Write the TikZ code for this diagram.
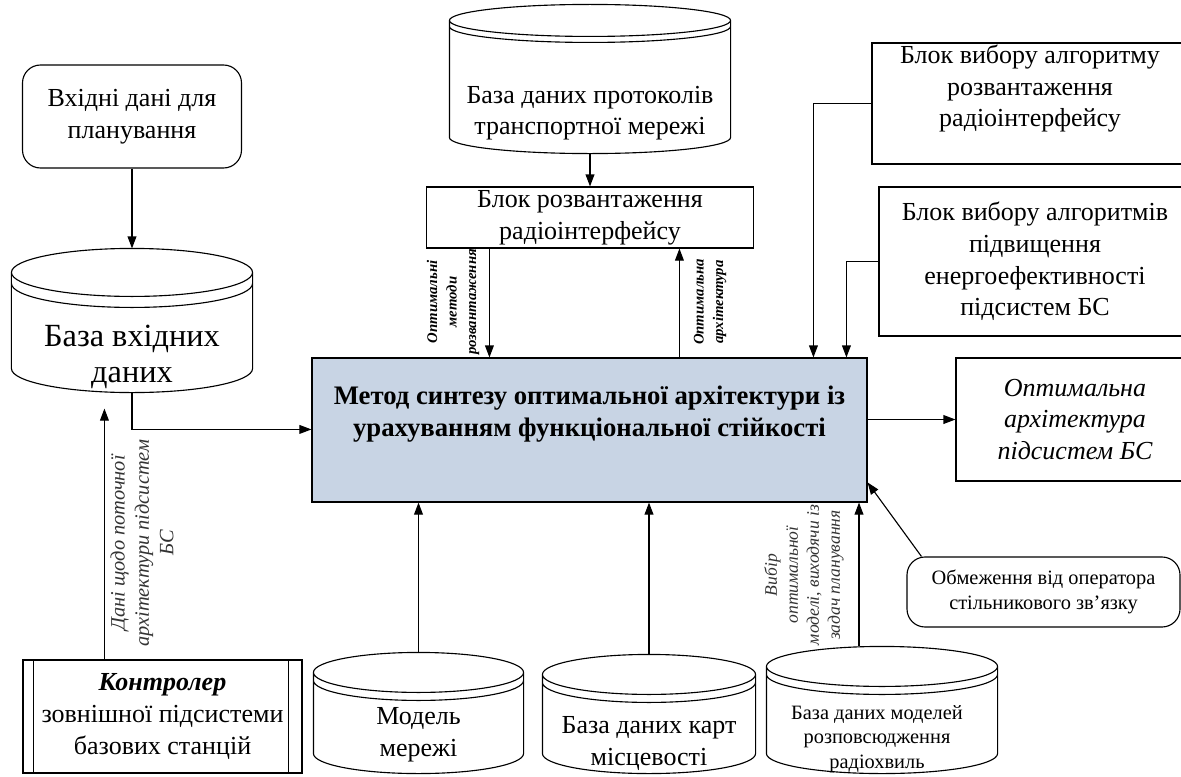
\documentclass[tikz,border=0pt]{standalone}
\usepackage{fontspec}
\setmainfont{Liberation Serif}
\usetikzlibrary{arrows.meta,calc}
\definecolor{mainblue}{RGB}{200,212,228}
\newcommand{\fsnorm}{\fontsize{18.5}{22.5}\selectfont}
\newcommand{\fsbold}{\fontsize{19}{23}\selectfont\bfseries}
\newcommand{\fsbig}{\fontsize{23}{26}\selectfont}
\newcommand{\fsmid}{\fontsize{14.5}{17.5}\selectfont}
\newcommand{\fstiny}{\fontsize{10.5}{13.9}\selectfont}
\newcommand{\fsdani}{\fontsize{14.5}{17.4}\selectfont}
\newcommand{\fsvib}{\fontsize{12.5}{14.9}\selectfont}
% database outline round a node: name, y radius, rim gap
\newcommand{\dbcyl}[3]{%
  \draw let \p1=(#1.north west), \p2=(#1.south east), \n1={(\x2-\x1)/2} in
    (\x1,\y1-#2) -- (\x1,\y2+#2)
    arc[start angle=180,end angle=360,x radius=\n1,y radius=#2]
    -- (\x2,\y1-#2)
    arc[start angle=0,end angle=360,x radius=\n1,y radius=#2]
    (\x1,\y1-#2-#3)
    arc[start angle=180,end angle=360,x radius=\n1,y radius=#2];
}

\begin{document}
\begin{tikzpicture}[x=0.25mm,y=-0.25mm,line width=0.8pt,
    >={Triangle[length=3mm,width=2.2mm]},
    blk/.style={draw,align=center,inner sep=2pt,font=\fsnorm},
    rblk/.style={blk,rounded corners=4.5mm},
    dbase/.style={inner sep=0pt},
    dbtxt/.style={align=center,font=\fsnorm},
    mainbox/.style={draw,fill=mainblue},
    vlbl/.style={rotate=90,align=center}]
    \useasboundingbox (0,0) rectangle (1181,776);
    \clip (0,0) rectangle (1181,776);

    % left column
    \node[rblk, minimum width=54.75mm, minimum height=25.75mm] (input) at (132,116.5) {Вхідні дані для\\планування};
    \node[dbase, minimum width=60mm, minimum height=35.75mm,
        label={[dbtxt,font=\fsbig,yshift=-9.1mm]center:База вхідних\\даних}] (base) at (132,320.5) {};
    \dbcyl{base}{6mm}{2.75mm}

    % top column
    \node[dbase, minimum width=70mm, minimum height=37mm,
        label={[dbtxt,yshift=-8.5mm]center:База даних протоколів\\транспортної мережі}] (proto) at (590,79) {};
    \dbcyl{proto}{4mm}{1.5mm}
    \node[blk, minimum width=81.75mm, minimum height=15.25mm] (unload) at (590,217.5) {Блок розвантаження\\радіоінтерфейсу};

    % method
    \node[mainbox, minimum width=138.75mm, minimum height=36mm,
        label={[dbtxt,font=\fsbold,yshift=4mm]center:Метод синтезу оптимальної архітектури із\\урахуванням функціональної стійкості}] (main) at (589.5,430) {};

    % right column
    \node[blk, minimum width=79mm, minimum height=30.25mm,
        label={[dbtxt,yshift=3.75mm]center:Блок вибору алгоритму\\розвантаження\\радіоінтерфейсу}] (algo1) at (1030,103.5) {};
    \node[blk, minimum width=78mm, minimum height=37.25mm] (algo2) at (1035,261.5) {Блок вибору алгоритмів\\підвищення\\енергоефективності\\підсистем БС};
    \node[blk, font=\fsnorm\itshape, minimum width=59.5mm, minimum height=30.75mm] (result) at (1075,419.5) {Оптимальна\\архітектура\\підсистем БС};
    \node[rblk, font=\fsmid, minimum width=68.25mm, minimum height=17.5mm] (limits) at (1043.5,592) {Обмеження від оператора\\стільникового зв’язку};

    % bottom row
    \node[blk, minimum width=69.75mm, minimum height=28.25mm] (ctrl) at (162.5,716.5) {\textbf{\textit{Контролер}}\\зовнішної підсистеми\\базових станцій};
    \draw ($(ctrl.north west)+(11,0)$) -- ($(ctrl.south west)+(11,0)$);
    \draw ($(ctrl.north east)+(-14,0)$) -- ($(ctrl.south east)+(-14,0)$);
    \node[dbase, minimum width=52.25mm, minimum height=30mm,
        label={[dbtxt,yshift=-5.5mm]center:Модель\\мережі}] (net) at (418.5,713) {};
    \dbcyl{net}{5mm}{2mm}
    \node[dbase, minimum width=53mm, minimum height=29.5mm,
        label={[dbtxt,yshift=-7.4mm]center:База даних карт\\місцевості}] (maps) at (649,714) {};
    \dbcyl{maps}{5mm}{2mm}
    \node[dbase, minimum width=57.5mm, minimum height=31.5mm,
        label={[dbtxt,font=\fsmid,xshift=-1.25mm,yshift=-7.25mm]center:База даних моделей\\розповсюдження\\радіохвиль}] (radio) at (882,710) {};
    \dbcyl{radio}{5mm}{2mm}

    % ends on the method box
    \coordinate (m_in) at ($(main.north west)+(0,72)$);
    \coordinate (m_dn) at ($(main.north west)+(178,0)$);
    \coordinate (m_up) at ($(main.north west)+(368,0)$);
    \coordinate (m_a1) at ($(main.north west)+(502,0)$);
    \coordinate (m_a2) at ($(main.north west)+(535,0)$);
    \coordinate (m_lim) at ($(main.north east)+(0,125)$);
    \coordinate (r_up) at ($(radio.north)+(-23,0)$);
    \coordinate (c_up) at ($(ctrl.north west)+(82,0)$);

    % connectors
    \draw[->] (input) -- (base.north);
    \draw[->] (base.south) |- (m_in);
    \draw[->] (proto.south) -- (unload);
    \draw[->] (unload.south -| m_dn) -- (m_dn);
    \draw[->] (m_up) -- (unload.south -| m_up);
    \draw[->] (algo1.west) -| (m_a1);
    \draw[->] (algo2.west) -| (m_a2);
    \draw[->] (main.east |- result.west) -- (result.west);
    \draw[->] ($(limits.north west)+(15,0)$) -- (m_lim);
    \draw[->] (net.north) -- (net.north |- main.south);
    \draw[->] (maps.north) -- (maps.north |- main.south);
    \draw[->] (r_up) -- (r_up |- main.south);
    \draw[->,shorten >=4mm] (c_up) -- (c_up |- base.south);

    % arrow labels
    \node[vlbl, font=\fstiny\bfseries\itshape] (lbl_m) at (453,302) {Оптимальні\\методи\\розвантаження};
    \node[vlbl, font=\fstiny\bfseries\itshape] (lbl_a) at (710,302) {Оптимальна\\архітектура};
    \node[vlbl, font=\fsdani\itshape, text=black!80] (lbl_d) at (142,543) {Дані щодо поточної\\архітектури підсистем\\БС};
    \node[vlbl, font=\fsvib\itshape, text=black!80] (lbl_v) at (804,575) {Вибір\\оптимальної\\моделі, виходячи із\\задач планування};
\end{tikzpicture}
\end{document}
